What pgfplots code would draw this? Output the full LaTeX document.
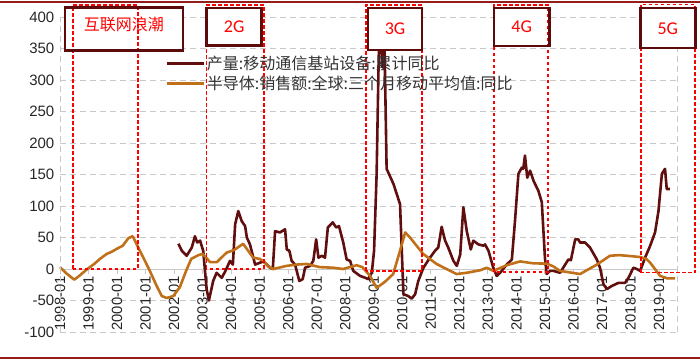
\documentclass[border=0pt]{standalone}
\usepackage{fontspec}
\setmainfont{Liberation Sans}
\newfontfamily\cjk{Noto Sans CJK SC}
\newfontfamily\carlito{Carlito}
\usepackage{pgfplots}
\pgfplotsset{compat=1.18}
\definecolor{darkline}{RGB}{96,14,14}
\definecolor{orangeline}{RGB}{192,112,24}
\definecolor{boxcol}{RGB}{92,10,10}
\definecolor{framecol}{RGB}{150,28,28}
\definecolor{gridgray}{RGB}{200,200,200}
\definecolor{pured}{RGB}{255,0,0}
\begin{document}
\begin{tikzpicture}
\begin{axis}[
  scale only axis, width=617pt, height=315pt,
  xmin=1998, xmax=2019.63, ymin=-100, ymax=400,
  clip=false,
  axis x line=middle, axis y line=left,
  hide obscured x ticks=false,
  x axis line style={-, draw=gridgray, line width=0.9pt},
  y axis line style={draw=none},
  xtick={1998,1999,2000,2001,2002,2003,2004,2005,2006,2007,2008,2009,2010,2011,2012,2013,2014,2015,2016,2017,2018,2019},
  xticklabels={1998-01,1999-01,2000-01,2001-01,2002-01,2003-01,2004-01,2005-01,2006-01,2007-01,2008-01,2009-01,2010-01,2011-01,2012-01,2013-01,2014-01,2015-01,2016-01,2017-01,2018-01,2019-01},
  xtick align=outside,
  x tick style={draw=gridgray, line width=0.9pt},
  major tick length=5pt,
  ytick={-100,-50,0,50,100,150,200,250,300,350,400},
  yticklabels={-100,-50,0,50,100,150,200,250,300,350,400},
  y tick style={draw=none},
  ymajorgrids,
  grid style={draw=gridgray, line width=0.9pt, dash pattern=on 6pt off 4pt},
  xticklabel style={rotate=90, anchor=east, font=\fontsize{14.8}{14.8}\selectfont, text=black!85, inner sep=2pt},
  yticklabel style={anchor=east, font=\fontsize{15}{15}\selectfont, text=black!85, inner sep=3pt},
  legend style={at={(rel axis cs:0.1702,0.884)}, anchor=north west, draw=none, fill=none,
    font=\cjk\fontsize{16}{18}\selectfont, text=black!80, row sep=1pt, inner sep=0pt,
    nodes={inner sep=2pt}},
  legend cell align=left,
  legend image code/.code={\draw[#1, line width=2.6pt] (0pt,0pt) -- (37pt,0pt);},
]
\coordinate (bbl) at (rel axis cs:-0.09724,-0.09524);
\coordinate (bbr) at (rel axis cs:1.03728,1.05397);

\addplot[color=darkline, line width=2.6pt, line join=round] coordinates {
(2002.15,40) (2002.27,29) (2002.44,21) (2002.62,34) (2002.73,52) (2002.81,42) (2002.91,45)
(2003.02,29) (2003.14,-32) (2003.22,-50) (2003.37,-19) (2003.49,-6) (2003.58,-10) (2003.67,-14)
(2003.79,-4) (2003.96,13) (2004.06,7) (2004.14,71) (2004.25,92) (2004.37,76) (2004.49,68)
(2004.55,50) (2004.66,39) (2004.84,7) (2005.01,10) (2005.13,12) (2005.25,7) (2005.36,2)
(2005.46,0) (2005.54,60) (2005.71,58) (2005.89,63) (2005.95,31) (2006.04,29) (2006.12,13)
(2006.24,7) (2006.39,-19) (2006.51,-16) (2006.59,2) (2006.77,5) (2006.88,13) (2006.98,47)
(2007.06,18) (2007.18,21) (2007.29,18) (2007.39,66) (2007.56,74) (2007.68,66) (2007.78,68)
(2007.93,42) (2008.05,15) (2008.17,13) (2008.28,-3) (2008.52,-11) (2008.70,-14) (2008.80,-16)
(2008.93,-6) (2009.01,29) (2009.10,151) (2009.17,330) (2009.22,410) (2009.30,320) (2009.36,400)
(2009.45,159) (2009.69,135) (2009.92,103) (2010.04,-40) (2010.21,-43) (2010.33,-47) (2010.45,-40)
(2010.56,-19) (2010.74,2) (2010.97,18) (2011.15,29) (2011.26,34) (2011.38,67) (2011.50,45)
(2011.61,34) (2011.79,13) (2011.91,5) (2012.03,23) (2012.14,98) (2012.26,60) (2012.40,31)
(2012.49,45) (2012.67,39) (2012.84,37) (2012.90,39) (2013.02,29) (2013.19,2) (2013.31,-11)
(2013.43,-6) (2013.66,7) (2013.84,15) (2013.95,76) (2014.07,151) (2014.19,161) (2014.24,159)
(2014.30,180) (2014.38,145) (2014.48,156) (2014.60,140) (2014.77,124) (2014.89,106) (2015.00,18)
(2015.06,-8) (2015.18,-3) (2015.30,-3) (2015.53,-6) (2015.71,7) (2015.82,15) (2015.91,14)
(2016.06,47) (2016.17,47) (2016.23,42) (2016.41,42) (2016.58,34) (2016.82,15) (2016.93,2)
(2017.05,-24) (2017.17,-32) (2017.34,-27) (2017.58,-22) (2017.81,-22) (2017.93,-14) (2018.10,2)
(2018.22,0) (2018.34,-3) (2018.51,18) (2018.69,37) (2018.86,58) (2018.98,92) (2019.10,151)
(2019.21,159) (2019.27,127) (2019.38,127)
};
\addlegendentry{产量:移动通信基站设备:累计同比}

\addplot[color=orangeline, line width=2.6pt, line join=round] coordinates {
(1998.00,3) (1998.20,-6) (1998.50,-17) (1998.70,-10) (1998.93,-1) (1999.20,8) (1999.40,16)
(1999.64,24) (1999.80,27) (1999.99,32) (2000.20,37) (2000.40,49) (2000.55,52) (2000.80,29)
(2001.15,-3) (2001.40,-28) (2001.57,-43) (2001.74,-46) (2001.97,-43) (2002.20,-29) (2002.42,-3)
(2002.60,16) (2002.85,22) (2003.00,24) (2003.26,11) (2003.50,11) (2003.84,26) (2004.10,30)
(2004.42,40) (2004.77,18) (2005.00,16) (2005.13,13) (2005.30,4) (2005.48,0) (2005.95,5)
(2006.30,7) (2006.65,8) (2007.10,3) (2007.58,2) (2007.92,0) (2008.40,6) (2008.60,3)
(2008.87,-11) (2009.10,-30) (2009.40,-20) (2009.68,-8) (2009.92,29) (2010.10,58) (2010.27,50)
(2010.73,24) (2011.20,8) (2011.55,0) (2011.90,-8) (2012.26,-6) (2012.73,-2) (2012.96,2)
(2013.19,-3) (2013.66,6) (2014.13,12) (2014.59,9) (2015.07,8.5) (2015.30,4) (2015.53,-3)
(2016.23,-8) (2016.82,7) (2017.28,21) (2017.60,22) (2017.87,21) (2018.34,19) (2018.55,16)
(2018.69,10) (2019.04,-11) (2019.30,-15) (2019.56,-15)
};
\addlegendentry{半导体:销售额:全球:三个月移动平均值:同比}

% vertical grid lines at both ends
\draw[gridgray, line width=0.9pt, dash pattern=on 6pt off 4pt] (axis cs:1998,-100) -- (axis cs:1998,400);
\draw[gridgray, line width=0.9pt, dash pattern=on 6pt off 4pt] (axis cs:2019.63,-100) -- (axis cs:2019.63,400);

% label boxes (white filled)
\fill[white] (axis cs:1998.175,346.5) rectangle (axis cs:2002.313,415);
\fill[white] (axis cs:2003.144,354.4) rectangle (axis cs:2005.072,414);
\fill[white] (axis cs:2008.80,347.6) rectangle (axis cs:2010.69,414);
\fill[white] (axis cs:2013.22,354) rectangle (axis cs:2015.15,414);
\fill[white] (axis cs:2018.34,350.8) rectangle (axis cs:2020.27,414);
% red dashed period rectangles
\draw[pured, line width=1.4pt, dash pattern=on 3.5pt off 2.5pt] (axis cs:1998.46,0) rectangle (axis cs:2000.728,419);
\draw[pured, line width=1.4pt, dash pattern=on 3.5pt off 2.5pt] (axis cs:2003.127,0) rectangle (axis cs:2005.148,419);
\draw[pured, line width=1.4pt, dash pattern=on 3.5pt off 2.5pt] (axis cs:2008.73,-3) rectangle (axis cs:2010.69,419);
\draw[pured, line width=1.4pt, dash pattern=on 3.5pt off 2.5pt] (axis cs:2013.22,-5) rectangle (axis cs:2015.11,419);
\draw[pured, line width=1.4pt, dash pattern=on 3.5pt off 2.5pt] (axis cs:2018.37,-6) rectangle (axis cs:2020.26,420);
% box borders
\draw[boxcol, line width=2.6pt] (axis cs:1998.175,346.5) rectangle (axis cs:2002.313,415);
\draw[boxcol, line width=2.6pt] (axis cs:2003.144,354.4) rectangle (axis cs:2005.072,414);
\draw[boxcol, line width=2.6pt] (axis cs:2008.80,347.6) rectangle (axis cs:2010.69,414);
\draw[boxcol, line width=2.6pt] (axis cs:2013.22,354) rectangle (axis cs:2015.15,414);
\draw[boxcol, line width=2.6pt] (axis cs:2018.34,350.8) rectangle (axis cs:2020.27,414);
% box labels
\node[pured, font=\cjk\fontsize{16}{16}\selectfont] at (axis cs:2000.24,389) {互联网浪潮};
\node[pured, font=\carlito\fontsize{18}{18}\selectfont] at (axis cs:2004.108,384) {2G};
\node[pured, font=\carlito\fontsize{18}{18}\selectfont] at (axis cs:2009.745,381) {3G};
\node[pured, font=\carlito\fontsize{18}{18}\selectfont] at (axis cs:2014.185,384) {4G};
\node[pured, font=\carlito\fontsize{18}{18}\selectfont] at (axis cs:2019.305,382) {5G};
% outer frame lines
\draw[framecol, line width=1.6pt] (rel axis cs:-0.09724,1.0476) -- (rel axis cs:1.03728,1.0476);
\draw[framecol, line width=1.6pt] (rel axis cs:-0.09724,-0.0825) -- (rel axis cs:1.03728,-0.0825);
\end{axis}
\pgfresetboundingbox
\path[use as bounding box] (bbl) rectangle (bbr);
\end{tikzpicture}
\end{document}
